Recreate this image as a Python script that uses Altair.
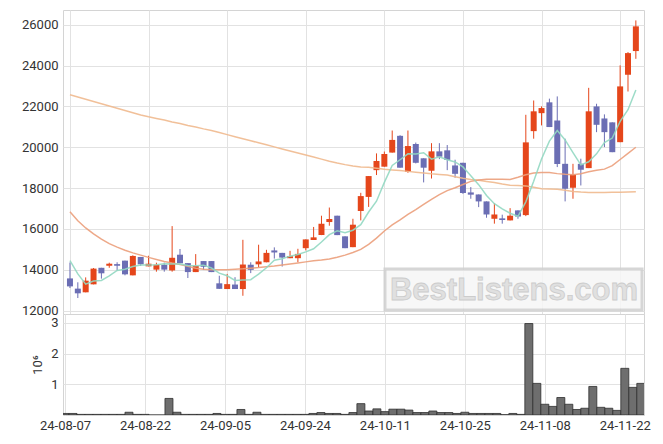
import altair as alt
import pandas as pd

dates = ["24-08-07","24-08-08","24-08-09","24-08-12","24-08-13","24-08-14","24-08-16","24-08-19","24-08-20","24-08-21",
         "24-08-22","24-08-23","24-08-26","24-08-27","24-08-28","24-08-29","24-08-30","24-09-02","24-09-03","24-09-04",
         "24-09-05","24-09-06","24-09-09","24-09-10","24-09-11","24-09-12","24-09-13","24-09-19","24-09-20","24-09-23",
         "24-09-24","24-09-25","24-09-26","24-09-27","24-09-30","24-10-02","24-10-04","24-10-07","24-10-08","24-10-10",
         "24-10-11","24-10-14","24-10-15","24-10-16","24-10-17","24-10-18","24-10-21","24-10-22","24-10-23","24-10-24",
         "24-10-25","24-10-28","24-10-29","24-10-30","24-10-31","24-11-01","24-11-04","24-11-05","24-11-06","24-11-07",
         "24-11-08","24-11-11","24-11-12","24-11-13","24-11-14","24-11-15","24-11-18","24-11-19","24-11-20","24-11-21",
         "24-11-22","24-11-25","24-11-26"]

opens = [13580,13080,12900,13290,14100,14200,14280,14450,13730,14630,
         14170,14010,14250,13970,14740,14330,13890,14430,14430,13340,
         13060,13280,13060,14250,14270,14370,14950,14830,14570,14570,
         15060,15460,15700,16340,16650,15640,15110,16880,17570,18880,
         19050,19740,20560,18800,20160,19460,18850,19800,19850,19110,
         19240,17790,17690,17350,16500,16520,16420,16910,16680,20790,
         21670,22200,21310,19190,18020,19190,18980,22000,21410,21220,
         20250,23550,24710]
highs = [14360,13390,13630,14090,14100,14350,14370,14450,14710,14630,
         14690,14350,14350,16140,15020,14330,14770,14430,14430,13710,
         13800,13640,15470,14370,15230,14980,15100,14830,14930,15030,
         15490,16100,16650,17050,16650,15640,16500,17770,18590,19700,
         19790,20820,20590,20820,20230,19460,20200,20200,20110,19390,
         19240,18050,17690,17350,17270,16700,17020,16910,21590,22290,
         22000,22380,22490,20420,19190,19440,22910,22130,21610,21220,
         24010,24660,26210]
lows = [13110,12620,12900,13290,13570,14100,13960,13730,13730,14190,
        14170,13910,13910,13910,14320,13600,13890,13990,13890,13070,
        13060,13060,12730,13840,14130,14370,14550,14160,14570,14370,
        14950,15460,15700,16160,15700,15060,15110,16420,17080,18640,
        19050,19740,19000,18750,19210,18280,18470,19420,18880,18510,
        17720,17480,17070,16550,16260,16260,16420,16500,16630,20420,
        21070,20990,19030,17350,17480,18130,18980,20740,20010,19760,
        20250,22730,24330]
closes = [13190,12850,13470,14060,13830,14300,14200,13780,14680,14270,
          14300,14250,14010,14590,14320,13890,14190,14150,13890,13070,
          13300,13060,14260,14000,14410,14830,14850,14600,14670,14780,
          15490,15590,16260,16490,15700,15060,16210,17610,18590,19330,
          19670,20360,19000,20060,19240,19000,19800,19540,19380,18700,
          17760,17680,17350,16710,16710,16440,16650,16610,20240,21760,
          21920,20990,19180,17970,18670,18900,21760,21100,20740,19760,
          22980,24610,25920]
# volume in millions
volumes = [0.05,0.05,0.02,0.02,0.02,0.02,0.02,0.02,0.09,0.02,
           0.02,0.0,0.0,0.54,0.09,0.02,0.02,0.02,0.02,0.05,
           0.02,0.02,0.18,0.02,0.09,0.02,0.02,0.02,0.02,0.02,
           0.02,0.05,0.08,0.05,0.05,0.02,0.08,0.37,0.13,0.20,
           0.11,0.19,0.19,0.16,0.08,0.08,0.13,0.08,0.08,0.05,
           0.09,0.05,0.05,0.05,0.05,0.01,0.05,0.02,2.98,1.03,
           0.35,0.28,0.57,0.35,0.18,0.22,0.93,0.25,0.22,0.15,
           1.52,0.90,1.03]
ma5 = [14450,13800,13300,13450,13480,13700,13970,14030,14160,14240,
       14240,14250,14300,14280,14290,14210,14200,14230,14090,13840,
       13710,13480,13500,13520,13790,14100,14470,14540,14670,14750,
       14880,15030,15360,15720,15910,15820,15940,16210,16830,17360,
       18280,19110,19390,19680,19670,19730,19420,19530,19390,19280,
       19040,18610,18170,17640,17240,16980,16770,16620,17330,18340,
       19430,20300,20820,20360,19740,19140,19290,19680,20230,20450,
       21270,21840,22800]
ma20 = [16840,16400,16050,15760,15500,15280,15110,14960,14830,14720,
        14610,14510,14410,14330,14260,14170,14080,14030,14000,14000,
        14010,14030,14050,14080,14110,14150,14190,14240,14290,14340,
        14390,14440,14480,14530,14620,14720,14850,15000,15250,15550,
        15900,16200,16450,16720,16950,17200,17450,17680,17880,18020,
        18180,18330,18400,18440,18440,18440,18420,18530,18650,18740,
        18770,18770,18710,18680,18660,18700,18800,18880,18930,19100,
        19400,19700,20000]
ma60 = [22570,22460,22350,22240,22130,22020,21910,21800,21690,21580,
        21490,21410,21330,21240,21160,21070,20990,20900,20820,20720,
        20620,20520,20420,20320,20220,20120,20020,19920,19820,19720,
        19620,19520,19420,19320,19230,19150,19080,19040,19020,18970,
        18920,18890,18860,18820,18780,18740,18700,18670,18640,18560,
        18480,18420,18380,18330,18280,18200,18140,18130,18110,18040,
        17970,17960,17950,17900,17840,17810,17790,17790,17790,17800,
        17800,17810,17820]

tick_idx = [0, 10, 20, 30, 40, 50, 60, 70]
price_ticks = [12000, 14000, 16000, 18000, 20000, 22000, 24000, 26000]

n = len(dates)
df = pd.DataFrame({
    "i": list(range(n)), "date": dates, "open": opens, "high": highs,
    "low": lows, "close": closes, "vol": volumes,
    "ma5": ma5, "ma20": ma20, "ma60": ma60,
})
df["dir"] = ["up" if c >= o else "down" for o, c in zip(opens, closes)]
df["x0"] = df["i"] - 0.5
df["x1"] = df["i"] + 0.5
df["zero"] = 0.0

RED = "#e5461b"
BLUE = "#6b6eb4"
xscale = alt.Scale(domain=[-0.25, 72.4], nice=False, zero=False)
pscale = alt.Scale(domain=[11838, 26720], nice=False, zero=False)
cscale = alt.Scale(domain=["up", "down"], range=[RED, BLUE])
label_expr = "[" + ",".join("'%s'" % d for d in dates) + "][datum.value]"

W, HP, HV = 581, 304, 101

grid_x = alt.Axis(values=tick_idx, labels=False, ticks=False, domain=False, grid=True, title=None)
price_axis = alt.Axis(values=price_ticks, format="d", title=None, ticks=False, domain=False, grid=True,
                      labelPadding=5, labelFontSize=13)

base = alt.Chart(df)
wick = base.mark_rule(strokeWidth=1, clip=True).encode(
    x=alt.X("i:Q", scale=xscale, axis=grid_x),
    y=alt.Y("low:Q", scale=pscale, axis=price_axis),
    y2="high:Q",
    color=alt.Color("dir:N", scale=cscale, legend=None),
)
body = base.mark_bar(size=6, clip=True).encode(
    x=alt.X("i:Q", scale=xscale),
    y=alt.Y("open:Q", scale=pscale),
    y2="close:Q",
    color=alt.Color("dir:N", scale=cscale, legend=None),
)

def ma_line(field, color):
    return base.mark_line(color=color, strokeWidth=1.5, opacity=0.9, clip=True).encode(
        x=alt.X("i:Q", scale=xscale), y=alt.Y(field + ":Q", scale=pscale))

l60 = ma_line("ma60", "#f0b98e")
l20 = ma_line("ma20", "#eb9f7b")
l5 = ma_line("ma5", "#92d8c2")

wm_data = alt.Data(values=[{"t": "BestListens.com"}])
wm_box = alt.Chart(wm_data).mark_rect(fill="#f6f6f6", stroke="#d0d0d0", strokeWidth=3, opacity=0.85).encode(
    x=alt.value(322), x2=alt.value(579), y=alt.value(259), y2=alt.value(300))
wm_text = alt.Chart(wm_data).mark_text(font="Liberation Sans", fontWeight="bold", fontSize=31,
                                        fill="#e0e0e0", stroke="#cccccc", strokeWidth=0.8,
                                        align="center", baseline="middle").encode(
    x=alt.value(451), y=alt.value(281), text="t:N")

price = alt.layer(wick, body, l60, l20, l5, wm_box, wm_text).properties(width=W, height=HP)

vol = base.mark_bar(clip=True, color="#6e6e6e", stroke="#2e2e2e", strokeWidth=0.8).encode(
    x=alt.X("x0:Q", scale=xscale,
            axis=alt.Axis(values=tick_idx, labelExpr=label_expr, title=None, ticks=False, domain=False,
                          grid=True, labelFontSize=13, labelPadding=4, labelFlush=False,
                          labelOverlap=False)),
    x2="x1:Q",
    y=alt.Y("vol:Q", scale=alt.Scale(domain=[0, 3.29], nice=False),
            axis=alt.Axis(values=[1, 2, 3], title="10⁶", ticks=False, domain=False, grid=True,
                          labelFontSize=13, labelPadding=5, titleFontSize=13, titleFontWeight="normal",
                          titlePadding=6)),
    y2="zero:Q",
).properties(width=W, height=HV)

chart = alt.vconcat(price, vol, spacing=0, bounds="flush").properties(
    padding={"left": 12, "top": 1, "right": 0, "bottom": 0}
).configure(font="Roboto").configure_axis(
    labelColor="#333333", titleColor="#333333", gridColor="#e2e2e2", labelFont="Roboto"
).configure_view(stroke="#d4d4d4")

chart.save("out.html", embed_options={"renderer": "svg", "actions": False})
